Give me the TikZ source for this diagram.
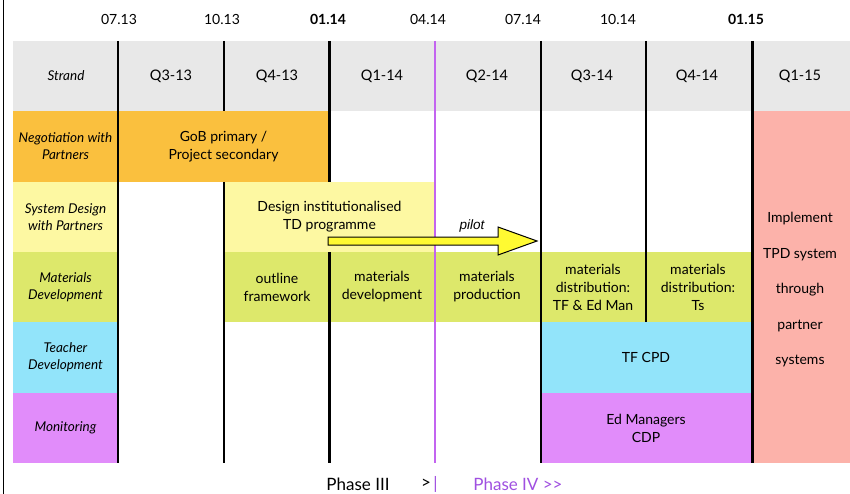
\documentclass[tikz,border=0pt]{standalone}
\usepackage{fontspec}
\setmainfont{Lato}
\newfontfamily\arialfont{Liberation Sans}
\definecolor{hdrgray}{RGB}{232,232,232}
\definecolor{negorange}{RGB}{250,192,62}
\definecolor{sysyellow}{RGB}{253,248,162}
\definecolor{matgreen}{RGB}{221,232,107}
\definecolor{tdblue}{RGB}{146,228,250}
\definecolor{monviolet}{RGB}{225,140,250}
\definecolor{implpink}{RGB}{252,178,170}
\definecolor{phaseline}{RGB}{195,100,240}
\definecolor{phasetext}{RGB}{160,80,225}
\definecolor{arrowyellow}{RGB}{255,250,50}
\tikzset{
  cell/.style={rectangle, inner sep=0pt, align=center, font=\fontsize{14}{18}\selectfont},
  lbl/.style={rectangle, inner sep=0pt, align=center, font=\fontsize{13.5}{17}\selectfont\itshape},
  datelbl/.style={inner sep=0pt, font=\fontsize{14}{16}\selectfont},
  hdr/.style={inner sep=0pt, font=\fontsize{14.5}{17}\selectfont},
  gridthin/.style={line width=1.6pt, black},
  gridthick/.style={line width=3pt, black},
  phasel/.style={line width=2.8pt, phaseline}
}
\begin{document}
\begin{tikzpicture}[x=1pt,y=-1pt]
\path[use as bounding box, fill=white] (0,0) rectangle (850,494);
% outer left frame
\draw[line width=1pt] (3,0) -- (3,494);
% header band
\fill[hdrgray] (13,41) rectangle (850,111);
% label column
\node[lbl, fill=negorange, minimum width=105pt, minimum height=71pt] (lneg) at (65.5,146.5) {Negotiation with\\Partners};
\node[lbl, fill=sysyellow, minimum width=105pt, minimum height=70pt] (lsys) at (65.5,217) {System Design\\with Partners};
\node[lbl, fill=matgreen, minimum width=105pt, minimum height=70pt] (lmat) at (65.5,287) {Materials\\Development};
\node[lbl, fill=tdblue, minimum width=105pt, minimum height=71pt] (ltd) at (65.5,357.5) {Teacher\\Development};
\node[lbl, fill=monviolet, minimum width=105pt, minimum height=70pt] (lmon) at (65.5,428) {Monitoring};
% cells
\node[cell, fill=negorange, minimum width=211pt, minimum height=71pt] (gob) at (223.5,146.5) {GoB primary /\\Project secondary};
\node[cell, fill=sysyellow, minimum width=211pt, minimum height=70pt] (design) at (329.5,217) {};
\node[cell] (designtxt) at (329.5,217) {Design institutionalised\\TD programme};
\node[cell, fill=matgreen, minimum width=527pt, minimum height=70pt] (matband) at (487.5,287) {};
\node[cell] (outline) at (277,287) {outline\\framework};
\node[cell] (matdev) at (382,287) {materials\\development};
\node[cell] (matprod) at (487,287) {materials\\production};
\node[cell] (matdist1) at (593,287) {materials\\distribution:\\TF \& Ed Man};
\node[cell] (matdist2) at (698,287) {materials\\distribution:\\Ts};
\node[cell, fill=tdblue, minimum width=211pt, minimum height=71pt] (tfcpd) at (646,357.5) {TF CPD};
\node[cell, fill=monviolet, minimum width=211pt, minimum height=70pt] (edman) at (646,428) {Ed Managers\\CDP};
\node[cell, fill=implpink, minimum width=98pt, minimum height=352pt] (impl) at (801,287) {};
\node[cell, font=\fontsize{14}{35.5}\selectfont] (impltxt) at (800,290) {Implement\\TPD system\\through\\partner\\systems};
% header texts
\node[hdr, font=\fontsize{13.5}{16}\selectfont\itshape] (hstrand) at (66,76) {Strand};
\node[hdr] (hq313) at (171,76) {Q3-13};
\node[hdr] (hq413) at (277,76) {Q4-13};
\node[hdr] (hq114) at (382,76) {Q1-14};
\node[hdr] (hq214) at (487,76) {Q2-14};
\node[hdr] (hq314) at (592,76) {Q3-14};
\node[hdr] (hq414) at (697,76) {Q4-14};
\node[hdr] (hq115) at (800,76) {Q1-15};
% dates
\node[datelbl] (d0713) at (119,19) {07.13};
\node[datelbl] (d1013) at (222,19) {10.13};
\node[datelbl, font=\fontsize{14}{16}\selectfont\bfseries] (d0114) at (328,19) {01.14};
\node[datelbl] (d0414) at (428,19) {04.14};
\node[datelbl] (d0714) at (523,19) {07.14};
\node[datelbl] (d1014) at (618,19) {10.14};
\node[datelbl, font=\fontsize{14}{16}\selectfont\bfseries] (d0115) at (746,19) {01.15};
% grid lines
\draw[gridthin] (118,41) -- (118,463);
\draw[gridthin] (224,41) -- (224,111);
\draw[gridthin] (224,182) -- (224,463);
\draw[gridthick] (329,41) -- (329,182);
\draw[gridthick] (329,252) -- (329,463);
\draw[gridthin] (541,41) -- (541,463);
\draw[gridthin] (646,41) -- (646,322);
\draw[gridthick] (752,41) -- (752,463);
\draw[phasel] (435,41) -- (435,463);
% pilot arrow
\draw[line width=1pt, fill=arrowyellow, line join=miter]
  (328,237) -- (498,237) -- (498,227) -- (537,241) -- (498,255) -- (498,245) -- (328,245) -- cycle;
\node[inner sep=0pt, font=\arialfont\fontsize{13.5}{16}\selectfont\itshape] (pilot) at (472,226) {pilot};
% phases
\node[inner sep=0pt, font=\fontsize{17}{20}\selectfont] (ph3) at (358,484) {Phase III};
\node[inner sep=0pt, font=\fontsize{17}{20}\selectfont] (phgt) at (426,484) {>};
\node[inner sep=0pt, font=\fontsize{17}{20}\selectfont, text=phasetext] (phbar) at (435.5,484) {|};
\node[inner sep=0pt, font=\fontsize{17}{20}\selectfont, text=phasetext] (ph4) at (518,484) {Phase IV {>}{>}};
\end{tikzpicture}
\end{document}
